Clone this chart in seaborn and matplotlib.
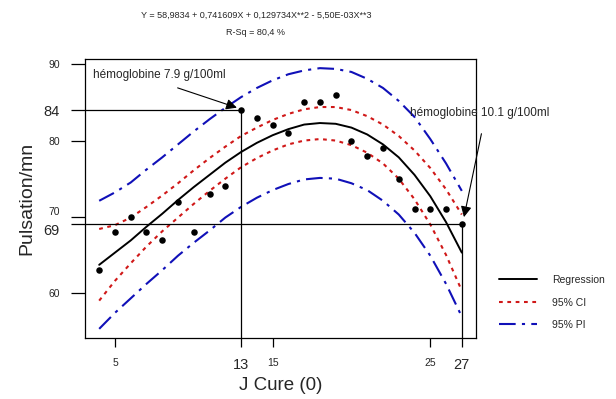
import matplotlib
matplotlib.use("Agg")
import matplotlib.pyplot as plt
import numpy as np
import pandas as pd
import seaborn as sns

# ----------------------
# Data
# ----------------------
# Observed pulse per day of cure
jour = list(range(4, 28))
pulsation = [63, 68, 70, 68, 67, 72, 68, 73, 74, 84, 83, 82,
             81, 85, 85, 86, 80, 78, 79, 75, 71, 71, 71, 69]

# Fitted cubic and its bands, read at each day
courbe_x = list(range(4, 28))
regression = [63.7, 65.3, 66.9, 68.7, 70.4, 72.2, 73.9, 75.5, 77.1, 78.5, 79.7, 80.7,
              81.5, 82.1, 82.3, 82.2, 81.7, 80.8, 79.5, 77.8, 75.5, 72.7, 69.3, 65.3]
ci_haut = [68.4, 68.9, 69.9, 71.3, 72.8, 74.4, 76.1, 77.7, 79.2, 80.6, 81.7, 82.7,
           83.5, 84.1, 84.4, 84.4, 84.0, 83.2, 82.1, 80.6, 78.7, 76.4, 73.6, 70.3]
ci_bas = [59.0, 61.6, 63.9, 66.1, 68.1, 69.9, 71.7, 73.4, 75.0, 76.5, 77.7, 78.7,
          79.5, 80.0, 80.2, 80.0, 79.4, 78.4, 77.0, 75.0, 72.3, 69.0, 65.0, 60.3]
pi_haut = [72.1, 73.2, 74.5, 76.2, 77.8, 79.5, 81.2, 82.8, 84.3, 85.7, 86.9, 87.9,
           88.7, 89.2, 89.5, 89.4, 89.0, 88.1, 86.9, 85.2, 83.1, 80.2, 77.0, 73.4]
pi_bas = [55.3, 57.4, 59.3, 61.2, 63.0, 64.9, 66.6, 68.2, 69.9, 71.3, 72.5, 73.5,
          74.3, 74.9, 75.1, 75.0, 74.4, 73.5, 72.1, 70.3, 67.9, 64.9, 61.2, 56.9]

# Marked points (hemoglobin readings)
repere_x = [13, 27]
repere_y = [84, 69]
repere_txt = ["hémoglobine 7.9 g/100ml", "hémoglobine 10.1 g/100ml"]

xticks_std = [5, 15, 25]
yticks_std = [60, 70, 80, 90]

titre = "Y = 58,9834 + 0,741609X + 0,129734X**2 - 5,50E-03X**3\nR-Sq = 80,4 %"

df_pts = pd.DataFrame({"jour": jour, "pulsation": pulsation})
df_fit = pd.DataFrame({"x": courbe_x, "reg": regression, "ci_h": ci_haut,
                       "ci_b": ci_bas, "pi_h": pi_haut, "pi_b": pi_bas})

########################
## Plot
########################
sns.set_theme(style="white")
plt.rcParams["font.family"] = ["Liberation Sans", "DejaVu Sans"]

fig = plt.figure(figsize=(6.16, 3.99), dpi=100)
ax = fig.add_axes([85 / 616, 61 / 399, 391 / 616, 279 / 399])

red = "#d01818"
blue = "#1010b8"
ci_style = (0, (1.8, 2.2))
pi_style = (0, (8, 3, 1.5, 3))

sns.lineplot(data=df_fit, x="x", y="pi_h", color=blue, lw=1.5, linestyle=pi_style, ax=ax)
sns.lineplot(data=df_fit, x="x", y="pi_b", color=blue, lw=1.5, linestyle=pi_style, ax=ax)
sns.lineplot(data=df_fit, x="x", y="ci_h", color=red, lw=1.5, linestyle=ci_style, ax=ax)
sns.lineplot(data=df_fit, x="x", y="ci_b", color=red, lw=1.5, linestyle=ci_style, ax=ax)
sns.lineplot(data=df_fit, x="x", y="reg", color="black", lw=1.4, ax=ax)
lines = ax.get_lines()
h_pi, h_ci, h_reg = lines[0], lines[2], lines[4]

sns.scatterplot(data=df_pts, x="jour", y="pulsation", color="black", s=22,
                edgecolor="black", linewidth=0, ax=ax, zorder=5)

ax.set_xlim(3.1, 27.9)
ax.set_ylim(54.1, 90.7)

# reference lines for the two marked readings
x0 = ax.get_xlim()[0]
y0 = ax.get_ylim()[0]
for xr, yr in zip(repere_x, repere_y):
    ax.plot([x0, xr], [yr, yr], color="black", lw=0.9)
    ax.plot([xr, xr], [y0, yr], color="black", lw=0.9)

# ticks
xt = sorted(xticks_std + repere_x)
yt = sorted(yticks_std + repere_y)
ax.set_xticks(xt)
ax.set_xticklabels([str(v) for v in xt])
ax.set_yticks(yt)
ax.set_yticklabels([str(v) for v in yt])
for lab, v in zip(ax.get_xticklabels(), xt):
    lab.set_fontsize(10.5 if v in repere_x else 7.5)
for lab, v in zip(ax.get_yticklabels(), yt):
    lab.set_fontsize(10.5 if v in repere_y else 7.5)
    # 69 and 70 sit close together: push them apart like the original
    if v == 69:
        lab.set_va("top")
    if v == 70:
        lab.set_va("bottom")
ax.tick_params(axis="y", direction="out", length=10, width=0.9, pad=8, color="black")
ax.tick_params(axis="x", direction="out", length=6.5, width=0.9, pad=8, color="black")
ax.tick_params(left=True, bottom=True)

for sp in ax.spines.values():
    sp.set_color("black")
    sp.set_linewidth(0.9)

ax.set_xlabel("J Cure (0)", fontsize=13.5, labelpad=3.5)
ax.set_ylabel("Pulsation/mn", fontsize=14, labelpad=6)

# annotations
ax.annotate("", xy=(repere_x[0] - 0.1, repere_y[0] + 0.2), xytext=(175, 312),
            textcoords="figure pixels",
            arrowprops=dict(arrowstyle="-|>", color="black", lw=0.8, mutation_scale=16))
fig.text(93 / 616, 1 - 75 / 399, repere_txt[0], fontsize=8.5, va="center", ha="left")
ax.annotate("", xy=(repere_x[1] + 0.1, repere_y[1] + 0.6), xytext=(482, 268),
            textcoords="figure pixels",
            arrowprops=dict(arrowstyle="-|>", color="black", lw=0.8, mutation_scale=16),
            annotation_clip=False)
fig.text(410 / 616, 1 - 113 / 399, repere_txt[1], fontsize=8.5, va="center", ha="left")

fig.text(256 / 616, 1 - 11 / 399, titre, fontsize=6.5, ha="center", va="top",
         linespacing=2.2)

ax.legend([h_reg, h_ci, h_pi], ["Regression", "95% CI", "95% PI"],
          loc="upper left", bbox_to_anchor=(499 / 616, 1 - 275 / 399),
          bbox_transform=fig.transFigure, frameon=False, fontsize=7.5,
          handlelength=3.6, handletextpad=1.5, labelspacing=1.2,
          borderpad=0, borderaxespad=0)

fig.savefig("out.png", dpi=100)
